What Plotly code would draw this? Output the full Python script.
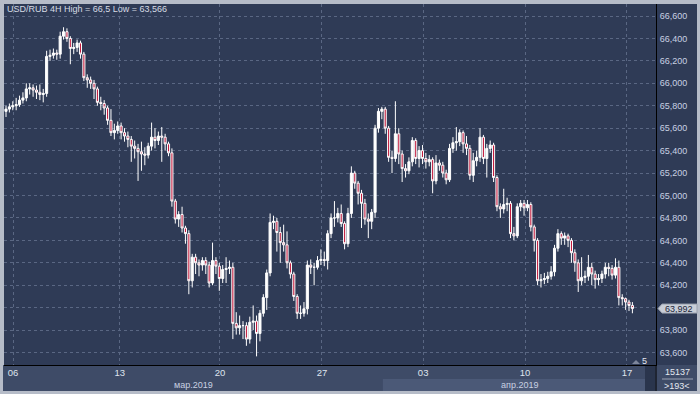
import plotly.graph_objects as go

# ---------------- data ----------------
closes = [
    65.77, 65.79, 65.80, 65.81, 65.85, 65.87, 65.95, 65.96, 65.94, 65.92,
    65.90, 65.91, 66.24, 66.25, 66.27, 66.26, 66.42, 66.46, 66.40, 66.31,
    66.32, 66.36, 66.26, 66.05, 66.03, 66.00, 65.95, 65.83, 65.82, 65.78,
    65.67, 65.56, 65.58, 65.62, 65.56, 65.53, 65.50, 65.44, 65.42, 65.39,
    65.37, 65.36, 65.44, 65.52, 65.49, 65.53, 65.52, 65.46, 65.38, 64.95,
    64.79, 64.83, 64.71, 64.66, 64.24, 64.45, 64.40, 64.38, 64.42, 64.38,
    64.22, 64.42, 64.37, 64.26, 64.34, 64.35, 64.36, 63.86, 63.82, 63.84,
    63.84, 63.72, 63.87, 63.88, 63.77, 63.95, 64.09, 64.31, 64.76, 64.77,
    64.67, 64.58, 64.56, 64.40, 64.30, 64.10, 63.95, 63.95, 63.99, 64.38,
    64.36, 64.36, 64.42, 64.43, 64.42, 64.66, 64.80, 64.80, 64.84, 64.75,
    64.57, 64.84, 65.20, 65.11, 65.02, 64.93, 64.79, 64.77, 64.85, 65.60,
    65.75, 65.77, 65.60, 65.34, 65.33, 65.55, 65.37, 65.24, 65.22, 65.30,
    65.49, 65.33, 65.40, 65.33, 65.30, 65.32, 65.13, 65.29, 65.27, 65.20,
    65.14, 65.42, 65.47, 65.48, 65.56, 65.46, 65.42, 65.18, 65.31, 65.34,
    65.52, 65.33, 65.42, 65.45, 65.16, 64.90, 64.88, 64.92, 64.93, 64.66,
    64.64, 64.90, 64.93, 64.89, 64.92, 64.72, 64.60, 64.24, 64.25, 64.26,
    64.28, 64.32, 64.53, 64.66, 64.62, 64.64, 64.60, 64.49, 64.40, 64.24,
    64.27, 64.28, 64.36, 64.30, 64.25, 64.26, 64.30, 64.36, 64.35, 64.29,
    64.36, 64.09, 64.08, 64.05, 64.02, 63.992,
]
highs = [
    65.80, 65.82, 65.84, 65.87, 65.89, 65.92, 66.00, 66.00, 65.99, 65.98,
    65.99, 65.95, 66.29, 66.30, 66.31, 66.30, 66.46, 66.50, 66.49, 66.42,
    66.36, 66.39, 66.38, 66.28, 66.08, 66.06, 66.03, 65.97, 65.88, 65.85,
    65.80, 65.77, 65.64, 65.66, 65.65, 65.60, 65.57, 65.53, 65.49, 65.46,
    65.48, 65.43, 65.47, 65.65, 65.60, 65.57, 65.61, 65.55, 65.48, 65.42,
    64.97, 64.86, 64.90, 64.73, 64.69, 64.48, 64.48, 64.43, 64.45, 64.45,
    64.41, 64.58, 64.45, 64.40, 64.38, 64.45, 64.42, 64.40, 63.96, 63.93,
    63.88, 63.87, 63.92, 64.02, 63.93, 63.98, 64.12, 64.34, 64.84, 64.82,
    64.80, 64.72, 64.74, 64.68, 64.42, 64.32, 64.12, 64.02, 64.05, 64.42,
    64.43, 64.40, 64.46, 64.52, 64.50, 64.69, 64.84, 64.95, 64.89, 64.92,
    64.77, 64.89, 65.26, 65.22, 65.13, 65.05, 64.97, 64.84, 64.88, 65.63,
    65.78, 65.79, 65.79, 65.62, 65.40, 65.84, 65.60, 65.40, 65.28, 65.34,
    65.52, 65.51, 65.44, 65.45, 65.38, 65.36, 65.34, 65.36, 65.32, 65.30,
    65.23, 65.46, 65.52, 65.61, 65.59, 65.58, 65.53, 65.45, 65.38, 65.40,
    65.60, 65.54, 65.46, 65.49, 65.47, 65.18, 64.93, 65.06, 64.98, 64.95,
    64.72, 64.93, 64.96, 64.96, 64.96, 64.94, 64.74, 64.62, 64.30, 64.31,
    64.32, 64.37, 64.56, 64.70, 64.68, 64.67, 64.66, 64.62, 64.52, 64.43,
    64.45, 64.33, 64.47, 64.40, 64.33, 64.30, 64.33, 64.40, 64.40, 64.38,
    64.44, 64.42, 64.12, 64.09, 64.07, 64.05,
]
lows = [
    65.70, 65.74, 65.76, 65.76, 65.79, 65.82, 65.84, 65.90, 65.88, 65.86,
    65.85, 65.83, 65.88, 66.20, 66.22, 66.21, 66.22, 66.39, 66.37, 66.17,
    66.26, 66.28, 66.22, 66.02, 65.96, 65.95, 65.86, 65.80, 65.76, 65.72,
    65.63, 65.53, 65.50, 65.55, 65.50, 65.48, 65.43, 65.30, 65.33, 65.13,
    65.22, 65.27, 65.33, 65.40, 65.42, 65.45, 65.30, 65.40, 65.35, 64.90,
    64.75, 64.72, 64.67, 64.57, 64.12, 64.18, 64.30, 64.28, 64.33, 64.30,
    64.18, 64.20, 64.30, 64.15, 64.22, 64.22, 64.30, 63.72, 63.76, 63.76,
    63.72, 63.66, 63.68, 63.80, 63.566, 63.70, 63.92, 63.98, 64.28, 64.70,
    64.50, 64.40, 64.50, 64.35, 64.26, 64.06, 63.90, 63.90, 63.92, 63.94,
    64.30, 64.20, 64.34, 64.38, 64.37, 64.34, 64.62, 64.72, 64.76, 64.72,
    64.52, 64.54, 64.80, 65.06, 64.92, 64.71, 64.74, 64.62, 64.70, 64.80,
    65.56, 65.68, 65.55, 65.30, 65.20, 65.30, 65.28, 65.12, 65.16, 65.19,
    65.26, 65.28, 65.25, 65.28, 65.24, 65.26, 65.02, 65.10, 65.22, 65.16,
    65.10, 65.12, 65.38, 65.40, 65.44, 65.38, 65.36, 65.14, 65.12, 65.26,
    65.30, 65.28, 65.16, 65.38, 65.12, 64.86, 64.80, 64.84, 64.86, 64.62,
    64.60, 64.62, 64.86, 64.82, 64.86, 64.68, 64.50, 64.20, 64.18, 64.21,
    64.22, 64.25, 64.28, 64.50, 64.56, 64.56, 64.54, 64.40, 64.32, 64.14,
    64.20, 64.22, 64.24, 64.20, 64.17, 64.20, 64.22, 64.26, 64.28, 64.25,
    64.26, 64.02, 64.02, 63.98, 63.97, 63.95,
]
first_open = 65.75            # open of the first bar; every later bar opens at the prior close
opens = [first_open] + closes[:-1]

price_ticks = [63.6, 63.8, 64.0, 64.2, 64.4, 64.6, 64.8, 65.0, 65.2, 65.4,
               65.6, 65.8, 66.0, 66.2, 66.4, 66.6]
day_tick_bars = [2.1, 33.6, 63.2, 93.3, 123.2, 153.3, 183.4]
day_tick_labels = ["06", "13", "20", "27", "03", "10", "17"]
month_labels = ["мар.2019", "апр.2019"]
april_start_bar = 111.3
title_text = "USD/RUB 4H High = 66,5 Low = 63,566"
bars_total_text = "15137"
bars_visible_text = ">193<"
scale_text = "5"

# ---------------- styling ----------------
W, H = 700, 394
ML, MR, MT, MB = 4, 44, 4, 29
PW, PH = W - ML - MR, H - MT - MB
X_RANGE = [-0.59, 191.97]
Y_RANGE = [63.489, 66.707]

FRAME = "#b6bcc8"
NAVY = "#2f3b56"
AXIS_BG = "#3e4b67"
BAND = "#4b5977"
GRID = "#5a6783"
TXT = "#c9d1e2"
FONT = "Liberation Sans, Arial, sans-serif"


def px_x(p):
    return (p - ML) / PW


def px_y(p):
    return (H - MB - p) / PH


def bar_to_paper(b):
    return (b - X_RANGE[0]) / (X_RANGE[1] - X_RANGE[0])


def fmt_price(v):
    return f"{v:.3f}".replace(".", ",")


x = list(range(len(closes)))
last = closes[-1]
px_per_unit = PH / (Y_RANGE[1] - Y_RANGE[0])

# the last-price tag covers the axis label it sits on
price_tick_text = ["" if abs(v - last) * px_per_unit < 12 else fmt_price(v)
                   for v in price_ticks]

fig = go.Figure(go.Candlestick(
    x=x, open=opens, high=highs, low=lows, close=closes,
    increasing=dict(line=dict(color="#ffffff", width=1), fillcolor="#ffffff"),
    decreasing=dict(line=dict(color="#ffffff", width=1), fillcolor="#c21a3d"),
    whiskerwidth=0, hoverinfo="skip", showlegend=False,
))

shapes = [
    dict(type="rect", xref="paper", yref="paper", x0=1, x1=px_x(697),
         y0=0, y1=1, fillcolor=NAVY, line_width=0, layer="below"),
    dict(type="rect", xref="paper", yref="paper", x0=px_x(3), x1=px_x(697),
         y0=px_y(391), y1=0, fillcolor=AXIS_BG, line_width=0, layer="below"),
    dict(type="rect", xref="paper", yref="paper",
         x0=bar_to_paper(april_start_bar), x1=px_x(645),
         y0=px_y(391), y1=px_y(379), fillcolor=BAND, line_width=0, layer="below"),
    dict(type="rect", xref="paper", yref="paper", x0=px_x(645), x1=px_x(655),
         y0=px_y(391), y1=0, fillcolor="#2a354d", line_width=0, layer="below"),
    dict(type="line", xref="paper", yref="paper", x0=1, x1=1,
         y0=px_y(391), y1=0, line=dict(color="#000000", width=1)),
    dict(type="line", xref="paper", yref="paper", x0=px_x(662), x1=px_x(693),
         y0=px_y(379), y1=px_y(379), line=dict(color="#9aa3b5", width=1)),
    dict(type="path", xref="paper", yref="paper",
         path=f"M {px_x(632)},{px_y(364)} L {px_x(636)},{px_y(360)} L {px_x(640)},{px_y(364)} Z",
         fillcolor="#7d869b", line_width=0),
]

h = 4.5 / px_per_unit
xt, x1, xr = px_x(658), px_x(662), px_x(697)
shapes.append(dict(
    type="path", xref="paper", yref="y",
    path=(f"M {xt},{last} L {x1},{last + h} L {xr},{last + h} "
          f"L {xr},{last - h} L {x1},{last - h} Z"),
    fillcolor="#c9ced8", line=dict(color="#9aa1ae", width=1)))

small = dict(family=FONT, size=9, color="#e4e8f0")
annotations = [
    dict(text=title_text, xref="paper", yref="paper", x=px_x(5), y=px_y(9.5),
         xanchor="left", yanchor="middle", showarrow=False,
         font=dict(family=FONT, size=9, color="#d6dbe5")),
    dict(text=month_labels[0], xref="paper", yref="paper",
         x=(0 + bar_to_paper(april_start_bar)) / 2, y=px_y(385),
         xanchor="center", yanchor="middle", showarrow=False,
         font=dict(family=FONT, size=9, color=TXT)),
    dict(text=month_labels[1], xref="paper", yref="paper",
         x=(bar_to_paper(april_start_bar) + 1) / 2, y=px_y(385),
         xanchor="center", yanchor="middle", showarrow=False,
         font=dict(family=FONT, size=9, color=TXT)),
    dict(text=scale_text, xref="paper", yref="paper", x=px_x(644.5), y=px_y(360.5),
         xanchor="center", yanchor="middle", showarrow=False, font=small),
    dict(text=bars_total_text, xref="paper", yref="paper", x=px_x(677), y=px_y(372.5),
         xanchor="center", yanchor="middle", showarrow=False, font=small),
    dict(text=bars_visible_text, xref="paper", yref="paper", x=px_x(677), y=px_y(386),
         xanchor="center", yanchor="middle", showarrow=False, font=small),
    dict(text=fmt_price(last), xref="paper", yref="y",
         x=(x1 + xr) / 2, y=last, xanchor="center", yanchor="middle",
         showarrow=False, font=dict(family=FONT, size=9, color="#1c2638")),
]

fig.update_layout(
    width=W, height=H,
    margin=dict(l=ML, r=MR, t=MT, b=MB, pad=0),
    paper_bgcolor=FRAME, plot_bgcolor=NAVY,
    boxgap=0.12,
    hovermode=False,
    shapes=shapes, annotations=annotations,
    font=dict(family=FONT, size=9, color=TXT),
    xaxis=dict(
        range=X_RANGE, rangeslider=dict(visible=False),
        tickmode="array", tickvals=day_tick_bars, ticktext=day_tick_labels,
        showgrid=True, gridcolor=GRID, griddash="3px,3px", gridwidth=1,
        showline=True, linecolor="#000000", linewidth=1,
        zeroline=False, ticks="", ticklabelstandoff=-1,
        tickfont=dict(family=FONT, size=9.5, color="#dfe4ee"),
        fixedrange=True,
    ),
    yaxis=dict(
        side="right", range=Y_RANGE,
        tickmode="array", tickvals=price_ticks, ticktext=price_tick_text,
        showgrid=True, gridcolor=GRID, griddash="3px,3px", gridwidth=1,
        showline=True, linecolor="#000000", linewidth=1,
        zeroline=False, ticks="", ticklabelstandoff=1,
        tickfont=dict(family=FONT, size=9, color=TXT),
        fixedrange=True,
    ),
)

fig.write_html(
    "out.html",
    config={"displayModeBar": False},
    post_script="document.body.style.margin='0';document.body.style.padding='0';",
)
